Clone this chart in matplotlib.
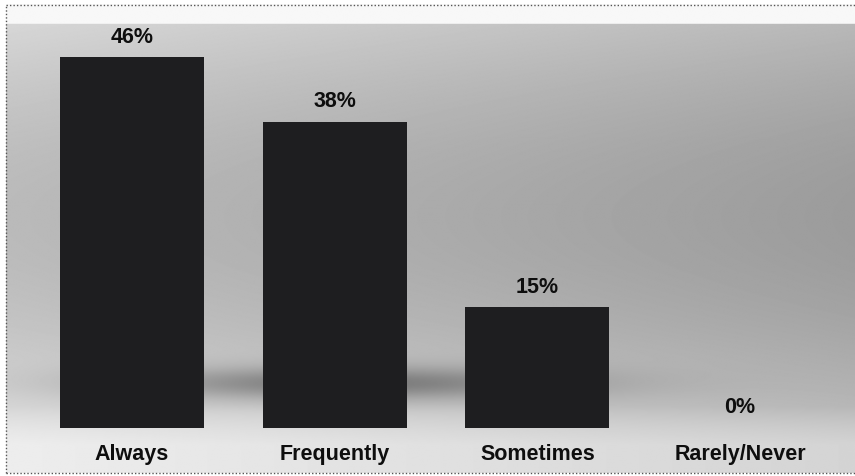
import matplotlib.pyplot as plt
import numpy as np

# survey answers
categories = ['Always', 'Frequently', 'Sometimes', 'Rarely/Never']
values = [46, 38, 15, 0]
labels = ['46%', '38%', '15%', '0%']

W, H = 855, 476

#builds the scanned-looking gray backdrop (pixel grid, 0 = black, 1 = white)
def backdrop():
	u, v = np.meshgrid(np.linspace(0, 1, W), np.linspace(0, 1, H))
	g = 0.86 - 0.12 * u - 0.13 * np.sin(np.pi * np.clip(v * 1.1, 0, 1))
	# dark shadow band behind the bars
	band = np.exp(-((v - 0.81) / 0.035) ** 2) * np.exp(-((u - 0.40) / 0.26) ** 2)
	g -= 0.28 * band
	# lighter floor under the bars
	floor = np.clip((v - 0.86) / 0.08, 0, 1)
	g = g * (1 - floor) + (0.93 - 0.10 * u) * floor
	# white strip at the top of the frame
	g[:20, :] = 0.97
	return np.clip(g, 0, 1)

def main():
	fig = plt.figure(figsize=(W / 100, H / 100), dpi=100)
	ax = fig.add_axes([0, 0, 1, 1])
	ax.set_xlim(-0.651, 3.567)
	ax.set_ylim(-6.02, 53.1)
	ax.axis('off')

	ax.imshow(backdrop(), cmap='gray', vmin=0, vmax=1, aspect='auto',
	          extent=[0.007, 1, 0.006, 0.9895], transform=ax.transAxes, zorder=0)

	# dotted frame
	dots = dict(color='#555555', lw=1, ls=(0, (1, 1.5)), transform=ax.transAxes, zorder=1)
	ax.plot([0.007, 0.007], [0.006, 0.9895], **dots)
	ax.plot([0.007, 1], [0.9895, 0.9895], **dots)
	ax.plot([0.007, 1], [0.006, 0.006], **dots)

	x = np.arange(len(categories))
	ax.bar(x, values, width=0.71, color='#1e1e20', zorder=2)

	font = dict(family=['Liberation Sans', 'DejaVu Sans'], weight='bold', size=15.5, color='#0e0e0e')
	for xi, val, lab in zip(x, values, labels):
		ax.text(xi, val + 2.45, lab, ha='center', va='center', zorder=3, **font)
	for xi, cat in zip(x, categories):
		ax.text(xi, -3.3, cat, ha='center', va='center', zorder=3, **font)

	fig.savefig('out.png', dpi=100)

if __name__ == "__main__":
	main()
